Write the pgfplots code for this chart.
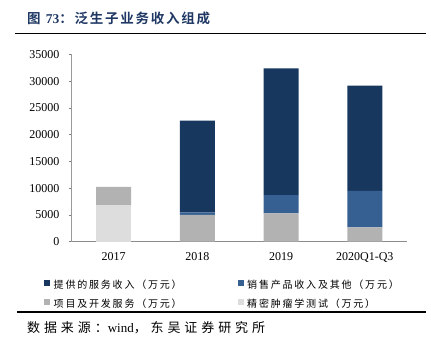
\documentclass[border=0pt]{standalone}
\usepackage{fontspec}
\setmainfont{Liberation Serif}
\newfontfamily\cjk{Noto Sans CJK SC}[LetterSpace=30]
\newfontfamily\cjkleg{Noto Sans CJK SC}[LetterSpace=18]
\newfontfamily\cjkb{Noto Sans CJK SC Bold}[LetterSpace=13]
\usepackage{pgfplots}
\pgfplotsset{compat=1.18}
\definecolor{cServ}{RGB}{23,55,94}
\definecolor{cSales}{RGB}{55,96,146}
\definecolor{cProj}{RGB}{178,178,178}
\definecolor{cPrec}{RGB}{221,221,221}
\definecolor{titleblue}{RGB}{31,56,100}
\begin{document}
\begin{tikzpicture}[x=1pt,y=1pt]
\useasboundingbox (0,0) rectangle (431,349);
\node[anchor=west, inner sep=0pt, text=titleblue] at (27,331) {\fontsize{13.5}{13.5}\selectfont{\cjkb 图} \textbf{73}{\cjkb ：泛生子业务收入组成}};
\draw[line width=1.8pt] (15,315.5) -- (426,315.5);
\begin{axis}[
  at={(71.7pt,107.3pt)}, anchor=south west,
  scale only axis, width=335pt, height=187.4pt,
  xmin=-0.5, xmax=3.5, ymin=0, ymax=35000,
  ybar stacked, bar width=35pt,
  axis x line*=bottom, axis y line*=left,
  axis line style={-},
  x axis line style={draw=black!45, line width=1.2pt},
  y axis line style={draw=black!40, line width=0.5pt},
  xtick={0,1,2,3},
  xticklabels={2017,2018,2019,2020Q1-Q3},
  major x tick style={draw=none},
  extra x ticks={0.5,1.5,2.5,3.5},
  extra x tick labels={},
  extra x tick style={major tick length=3pt, tick align=outside, tick style={draw=black!50, line width=0.5pt}},
  ytick={0,5000,...,35000},
  scaled y ticks=false,
  major tick length=3pt, tick align=outside,
  ytick style={draw=black!50, line width=0.5pt},
  /pgf/number format/.cd, set thousands separator={}, assume math mode=true, /pgfplots/.cd,
  tick label style={font=\fontsize{12}{12}\selectfont},
  yticklabel style={inner sep=0pt, anchor=east, xshift=-9pt},
  xticklabel style={inner sep=0pt, anchor=north, yshift=-8pt},
  legend style={at={(-0.0916,-0.183)}, anchor=north west, draw=none, fill=none,
    font=\cjkleg\fontsize{10}{10}\selectfont, column sep=1.5pt, row sep=5pt,
    /tikz/every even column/.append style={column sep=54pt}},
  legend columns=2,
  legend cell align=left,
  legend image code/.code={\fill[#1] (0pt,-0.5pt) rectangle (6pt,5.5pt);},
  reverse legend,
]
\addplot[fill=cPrec, draw=none] coordinates {(0,6850) (1,0) (2,0) (3,0)};
\addlegendentry{精密肿瘤学测试（万元）}
\addplot[fill=cProj, draw=none] coordinates {(0,3370) (1,4990) (2,5300) (3,2690)};
\addlegendentry{项目及开发服务（万元）}
\addplot[fill=cSales, draw=none] coordinates {(0,0) (1,500) (2,3420) (3,6780)};
\addlegendentry{销售产品收入及其他（万元）}
\addplot[fill=cServ, draw=none] coordinates {(0,0) (1,17110) (2,23670) (3,19670)};
\addlegendentry{提供的服务收入（万元）}
\end{axis}
\draw[line width=1.5pt] (17,37) -- (426,37);
\node[anchor=west, inner sep=0pt] at (27,21) {\fontsize{13}{13}\selectfont{\cjk 数据来源：}wind{\cjk ，东吴证券研究所}};
\end{tikzpicture}
\end{document}
